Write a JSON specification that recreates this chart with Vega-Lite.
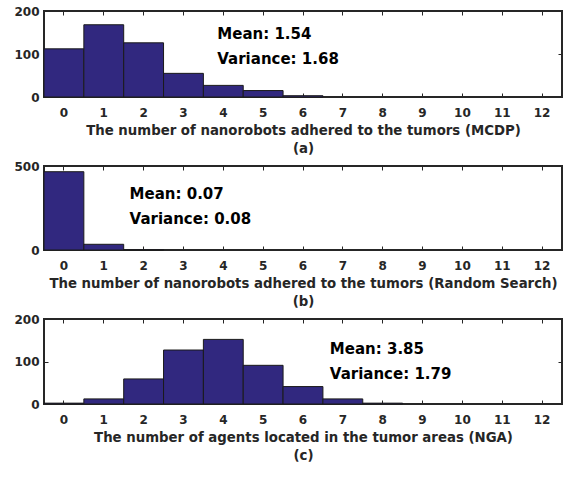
{
  "$schema": "https://vega.github.io/schema/vega-lite/v6.json",
  "padding": {"left": 12, "top": 4, "right": 11, "bottom": 5},
  "background": "white",
  "spacing": 69,
  "bounds": "flush",
  "config": {
    "view": {"stroke": "#262626", "strokeWidth": 2},
    "font": "DejaVu Sans",
    "axis": {
      "labelFont": "DejaVu Sans", "labelFontWeight": "bold", "labelFontSize": 12, "labelColor": "#262626",
      "titleFont": "DejaVu Sans", "titleFontWeight": "bold", "titleFontSize": 13.3, "titleColor": "#262626",
      "domainColor": "#262626", "tickColor": "#262626", "tickSize": -4, "grid": false,
      "domainWidth": 1, "tickWidth": 1
    },
    "text": {"align": "left", "baseline": "middle", "fontSize": 15, "fontWeight": "bold", "font": "DejaVu Sans", "color": "#000"}
  },
  "datasets": {
    "a": [
      {"n": 0, "count": 112}, {"n": 1, "count": 168}, {"n": 2, "count": 126}, {"n": 3, "count": 55},
      {"n": 4, "count": 27}, {"n": 5, "count": 15}, {"n": 6, "count": 3}
    ],
    "b": [
      {"n": 0, "count": 466}, {"n": 1, "count": 34}, {"n": 2, "count": 1}
    ],
    "c": [
      {"n": 0, "count": 2}, {"n": 1, "count": 12}, {"n": 2, "count": 59}, {"n": 3, "count": 127},
      {"n": 4, "count": 152}, {"n": 5, "count": 91}, {"n": 6, "count": 41}, {"n": 7, "count": 12}, {"n": 8, "count": 2}
    ],
    "one": [{"k": 1}]
  },
  "vconcat": [
    {
      "width": 518, "height": 86,
      "resolve": {"axis": {"x": "independent", "y": "independent"}},
      "layer": [
        {
          "data": {"name": "a"},
          "mark": {"type": "bar", "fill": "#31287f", "stroke": "#1a1a1a", "strokeWidth": 1},
          "encoding": {
            "x": {"field": "n", "type": "ordinal", "scale": {"domain": [0,1,2,3,4,5,6,7,8,9,10,11,12], "paddingInner": 0, "paddingOuter": 0},
                  "axis": {"orient": "bottom", "labelAngle": 0, "labelPadding": 14, "titlePadding": 5, "titleLineHeight": 18,
                           "title": ["The number of nanorobots adhered to the tumors (MCDP)", "(a)"]}},
            "y": {"field": "count", "type": "quantitative", "scale": {"domain": [0, 200], "nice": false},
                  "axis": {"orient": "left", "values": [0, 100, 200], "labelPadding": 9, "title": null}}
          }
        },
        {
          "data": {"name": "a"},
          "mark": {"type": "bar", "opacity": 0},
          "encoding": {
            "x": {"field": "n", "type": "ordinal", "axis": {"orient": "top", "labels": false, "title": null, "domainColor": "#262626", "tickColor": "#262626"}},
            "y": {"field": "count", "type": "quantitative", "axis": {"orient": "right", "values": [0, 100, 200], "labels": false, "title": null, "domainColor": "#262626", "tickColor": "#262626"}}
          }
        },
        {
          "data": {"name": "one"},
          "mark": {"type": "text", "dx": -6},
          "encoding": {
            "x": {"datum": 4, "type": "ordinal", "axis": null},
            "y": {"datum": 146, "type": "quantitative", "axis": null},
            "text": {"value": "Mean: 1.54"}
          }
        },
        {
          "data": {"name": "one"},
          "mark": {"type": "text", "dx": -6},
          "encoding": {
            "x": {"datum": 4, "type": "ordinal", "axis": null},
            "y": {"datum": 88, "type": "quantitative", "axis": null},
            "text": {"value": "Variance: 1.68"}
          }
        }
      ]
    },
    {
      "width": 518, "height": 84,
      "resolve": {"axis": {"x": "independent", "y": "independent"}},
      "layer": [
        {
          "data": {"name": "b"},
          "mark": {"type": "bar", "fill": "#31287f", "stroke": "#1a1a1a", "strokeWidth": 1},
          "encoding": {
            "x": {"field": "n", "type": "ordinal", "scale": {"domain": [0,1,2,3,4,5,6,7,8,9,10,11,12], "paddingInner": 0, "paddingOuter": 0},
                  "axis": {"orient": "bottom", "labelAngle": 0, "labelPadding": 14, "titlePadding": 5, "titleLineHeight": 18,
                           "title": ["The number of nanorobots adhered to the tumors (Random Search)", "(b)"]}},
            "y": {"field": "count", "type": "quantitative", "scale": {"domain": [0, 500], "nice": false},
                  "axis": {"orient": "left", "values": [0, 500], "labelPadding": 9, "title": null}}
          }
        },
        {
          "data": {"name": "b"},
          "mark": {"type": "bar", "opacity": 0},
          "encoding": {
            "x": {"field": "n", "type": "ordinal", "axis": {"orient": "top", "labels": false, "title": null, "domainColor": "#262626", "tickColor": "#262626"}},
            "y": {"field": "count", "type": "quantitative", "axis": {"orient": "right", "values": [0, 500], "labels": false, "title": null, "domainColor": "#262626", "tickColor": "#262626"}}
          }
        },
        {
          "data": {"name": "one"},
          "mark": {"type": "text", "dx": -14},
          "encoding": {
            "x": {"datum": 2, "type": "ordinal", "axis": null},
            "y": {"datum": 333, "type": "quantitative", "axis": null},
            "text": {"value": "Mean: 0.07"}
          }
        },
        {
          "data": {"name": "one"},
          "mark": {"type": "text", "dx": -14},
          "encoding": {
            "x": {"datum": 2, "type": "ordinal", "axis": null},
            "y": {"datum": 185, "type": "quantitative", "axis": null},
            "text": {"value": "Variance: 0.08"}
          }
        }
      ]
    },
    {
      "width": 518, "height": 85,
      "resolve": {"axis": {"x": "independent", "y": "independent"}},
      "layer": [
        {
          "data": {"name": "c"},
          "mark": {"type": "bar", "fill": "#31287f", "stroke": "#1a1a1a", "strokeWidth": 1},
          "encoding": {
            "x": {"field": "n", "type": "ordinal", "scale": {"domain": [0,1,2,3,4,5,6,7,8,9,10,11,12], "paddingInner": 0, "paddingOuter": 0},
                  "axis": {"orient": "bottom", "labelAngle": 0, "labelPadding": 14, "titlePadding": 5, "titleLineHeight": 18,
                           "title": ["The number of agents located in the tumor areas (NGA)", "(c)"]}},
            "y": {"field": "count", "type": "quantitative", "scale": {"domain": [0, 200], "nice": false},
                  "axis": {"orient": "left", "values": [0, 100, 200], "labelPadding": 9, "title": null}}
          }
        },
        {
          "data": {"name": "c"},
          "mark": {"type": "bar", "opacity": 0},
          "encoding": {
            "x": {"field": "n", "type": "ordinal", "axis": {"orient": "top", "labels": false, "title": null, "domainColor": "#262626", "tickColor": "#262626"}},
            "y": {"field": "count", "type": "quantitative", "axis": {"orient": "right", "values": [0, 100, 200], "labels": false, "title": null, "domainColor": "#262626", "tickColor": "#262626"}}
          }
        },
        {
          "data": {"name": "one"},
          "mark": {"type": "text", "dx": -13},
          "encoding": {
            "x": {"datum": 7, "type": "ordinal", "axis": null},
            "y": {"datum": 129, "type": "quantitative", "axis": null},
            "text": {"value": "Mean: 3.85"}
          }
        },
        {
          "data": {"name": "one"},
          "mark": {"type": "text", "dx": -13},
          "encoding": {
            "x": {"datum": 7, "type": "ordinal", "axis": null},
            "y": {"datum": 71, "type": "quantitative", "axis": null},
            "text": {"value": "Variance: 1.79"}
          }
        }
      ]
    }
  ]
}
